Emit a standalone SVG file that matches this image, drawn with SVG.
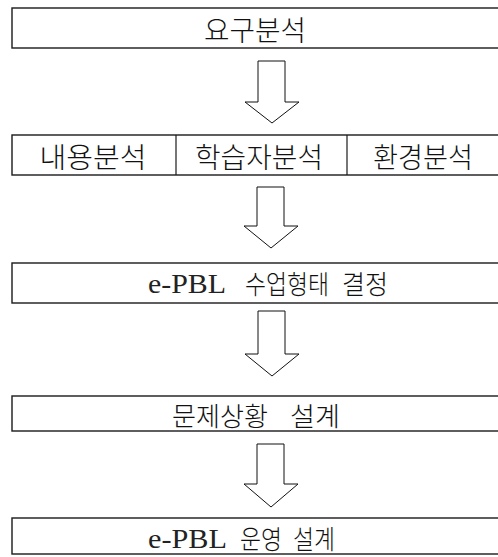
<svg xmlns="http://www.w3.org/2000/svg" width="498" height="557" viewBox="0 0 498 557">
<style>
.box{fill:#fff;stroke:#1a1a1a;stroke-width:1.4}
.div{stroke:#1a1a1a;stroke-width:1.2}
.arr{fill:#fff;stroke:#111;stroke-width:1}
.t{font-family:"Liberation Serif","Noto Sans CJK KR",serif;fill:#111;font-weight:300}
.m{text-anchor:middle}
.l{font-size:28px}
.s{font-size:26px}
.e{font-size:27px;fill:#222}
</style>
<rect width="498" height="557" fill="#fff"/>
<g id="n1">
<rect class="box" x="12" y="8" width="492" height="40"/>
<text class="t l m" x="255" y="41" textLength="102" lengthAdjust="spacingAndGlyphs">요구분석</text>
</g>
<g id="n2">
<rect class="box" x="12" y="135" width="492" height="40"/>
<line class="div" x1="176" y1="135" x2="176" y2="175"/>
<line class="div" x1="347" y1="135" x2="347" y2="175"/>
<text class="t l m" x="93" y="168" textLength="107" lengthAdjust="spacingAndGlyphs">내용분석</text>
<text class="t l m" x="259" y="168" textLength="128" lengthAdjust="spacingAndGlyphs">학습자분석</text>
<text class="t l m" x="423" y="168" textLength="100" lengthAdjust="spacingAndGlyphs">환경분석</text>
</g>
<g id="n3">
<rect class="box" x="12" y="263" width="492" height="40"/>
<text class="t s" y="294"><tspan class="e" x="148" y="293" textLength="78" lengthAdjust="spacingAndGlyphs">e-PBL</tspan> <tspan x="245" y="294" textLength="84" lengthAdjust="spacingAndGlyphs">수업형태</tspan> <tspan x="342" textLength="46" lengthAdjust="spacingAndGlyphs">결정</tspan></text>
</g>
<g id="n4">
<rect class="box" x="12" y="396" width="492" height="35"/>
<text class="t s" y="426"><tspan x="172" textLength="96" lengthAdjust="spacingAndGlyphs">문제상황</tspan> <tspan x="290" textLength="50" lengthAdjust="spacingAndGlyphs">설계</tspan></text>
</g>
<g id="n5">
<rect class="box" x="12" y="518" width="492" height="36"/>
<text class="t s" y="549"><tspan class="e" x="148" y="548" textLength="79" lengthAdjust="spacingAndGlyphs">e-PBL</tspan> <tspan x="240" y="549" textLength="42" lengthAdjust="spacingAndGlyphs">운영</tspan> <tspan x="293" textLength="42" lengthAdjust="spacingAndGlyphs">설계</tspan></text>
</g>
<g id="connectors">
<polygon class="arr" points="258,61 285,61 285,102 299,102 272,123 245,102 258,102"/>
<polygon class="arr" points="257,187 284,187 284,226 298,226 271,248 244,226 257,226"/>
<polygon class="arr" points="258,311 285,311 285,354 299,354 272,376 245,354 258,354"/>
<polygon class="arr" points="257,444 284,444 284,484 298,484 271,507 244,484 257,484"/>
</g>
</svg>
